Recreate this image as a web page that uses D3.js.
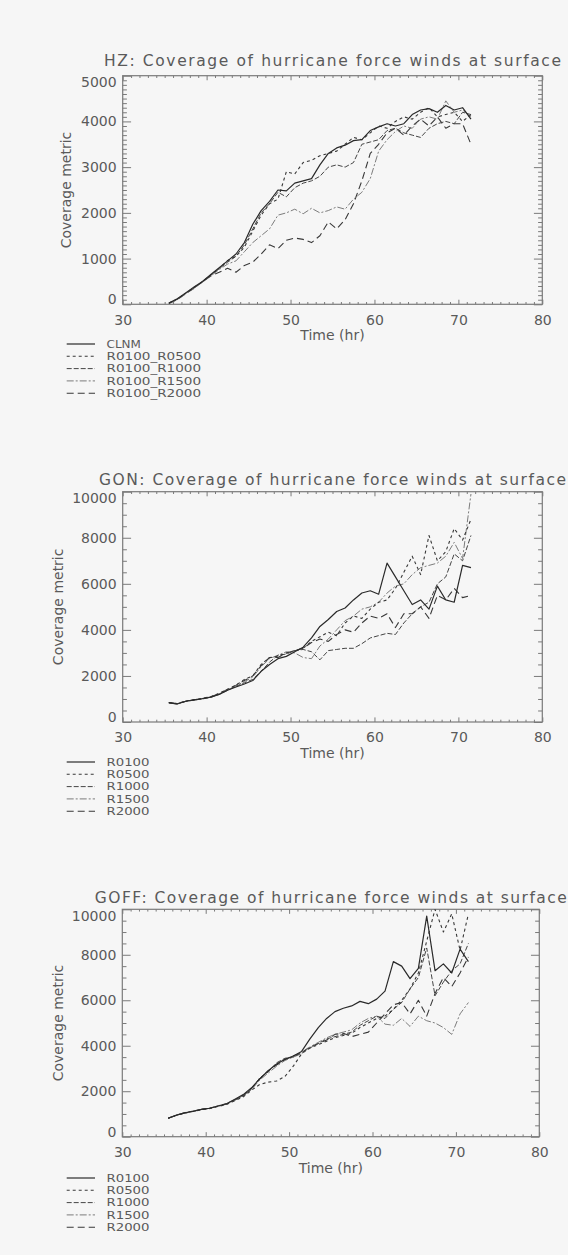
<!DOCTYPE html>
<html><head><meta charset="utf-8">
<script src="https://cdn.jsdelivr.net/npm/d3@7"></script>
<style>
body{margin:0;background:#f6f6f6;}
svg{display:block;}
text{font-family:"DejaVu Sans",sans-serif;fill:#5a5a5a;}
</style>
</head><body>
<svg id="c" width="568" height="1255"></svg>
<script>
// ---------------- DATA ----------------
const times = [35.5,36.5,37.5,38.5,39.5,40.5,41.5,42.5,43.5,44.5,45.5,46.5,47.5,48.5,49.5,50.5,51.5,52.5,53.5,54.5,55.5,56.5,57.5,58.5,59.5,60.5,61.5,62.5,63.5,64.5,65.5,66.5,67.5,68.5,69.5,70.5,71.5];

const xTickLabels = [30,40,50,60,70,80];

// Panel 1: HZ
const hzTitle = "HZ: Coverage of hurricane force winds at surface";
const hzNames = ["CLNM","R0100_R0500","R0100_R1000","R0100_R1500","R0100_R2000"];
const hzYTicks = [0,1000,2000,3000,4000,5000];
const hzCLNM  = [30,120,250,380,500,650,800,950,1100,1350,1750,2050,2250,2500,2480,2650,2700,2750,3050,3300,3420,3480,3580,3600,3800,3880,3950,3900,3950,4150,4250,4280,4200,4350,4250,4300,4050];
const hzR0500 = [30,110,240,370,490,640,790,960,1050,1250,1600,1950,2200,2300,2900,2850,3100,3150,3250,3300,3350,3500,3650,3600,3750,3900,3850,4000,4100,4050,4200,4300,4100,4150,4200,4000,4150];
const hzR1000 = [20,110,240,360,500,640,780,920,1050,1300,1650,2000,2200,2450,2350,2550,2650,2700,2800,3000,3050,3000,3100,3500,3550,3600,3800,3850,3750,3700,3650,3850,3950,4000,3950,4200,4150];
const hzR1500 = [20,100,230,350,480,620,760,880,950,1150,1350,1500,1650,1950,2000,2080,1980,2100,2000,2050,2130,2080,2300,2450,2750,3350,3600,3780,3900,3850,4050,4100,4050,4450,4200,4250,4100];
const hzR2000 = [20,100,230,350,490,620,700,790,700,850,920,1100,1300,1220,1400,1450,1420,1350,1500,1800,1650,1850,2200,2700,3300,3500,3750,3850,3700,3900,4050,3900,4100,3850,3950,3950,3500];

// Panel 2: GON
const gonTitle = "GON: Coverage of hurricane force winds at surface";
const gonNames = ["R0100","R0500","R1000","R1500","R2000"];
const gonYTicks = [0,2000,4000,6000,8000,10000];
const gonR0100 = [840,780,900,960,1010,1080,1200,1380,1520,1650,1800,2200,2500,2750,2850,3050,3250,3650,4150,4450,4800,4950,5300,5600,5700,5550,6900,6300,5700,5100,5300,4900,5900,5300,5200,6800,6700];
const gonR0500 = [840,800,910,970,1030,1100,1250,1420,1600,1850,2000,2500,2800,2850,3000,3100,3200,3500,3700,3900,3750,4300,4600,4500,4900,5200,5300,5800,6500,7200,6400,8100,7000,7400,8400,7900,8800];
const gonR1000 = [840,790,890,950,1000,1070,1200,1380,1550,1700,1850,2200,2600,2900,2950,3100,3150,3050,2700,3100,3150,3200,3200,3400,3650,3750,3850,3800,4300,4700,5000,5200,6000,6300,7300,7000,8100];
const gonR1500 = [840,800,900,960,1020,1090,1220,1400,1580,1750,1950,2400,2750,2900,3050,3000,2800,2750,3300,3600,4000,4400,4600,4900,5000,5200,5600,5900,6000,6400,6700,6800,6900,7200,7800,7100,9900];
const gonR2000 = [840,790,900,960,1020,1100,1230,1420,1600,1800,2000,2450,2800,2800,3000,3100,3200,3450,3600,3500,3800,4000,3900,4300,4600,4500,4700,4100,4700,4700,5000,4500,5500,5300,5800,5400,5500];

// Panel 3: GOFF
const goffTitle = "GOFF: Coverage of hurricane force winds at surface";
const goffNames = ["R0100","R0500","R1000","R1500","R2000"];
const goffYTicks = [0,2000,4000,6000,8000,10000];
const goffR0100 = [810,950,1050,1120,1200,1250,1350,1450,1650,1850,2150,2550,2900,3200,3400,3550,3750,4300,4800,5200,5500,5650,5750,5950,5850,6050,6400,7700,7500,6950,7400,9700,7300,7600,7200,8250,7700];
const goffR0500 = [810,940,1040,1110,1190,1240,1330,1420,1580,1750,2050,2300,2400,2450,2650,3100,3650,3900,4050,4200,4350,4450,4550,4800,5000,5200,5300,5600,6000,6500,7200,8600,10000,9000,9800,8200,9800];
const goffR1000 = [810,950,1060,1130,1210,1260,1360,1460,1620,1800,2100,2600,2850,3250,3450,3500,3700,3900,4100,4300,4400,4500,4600,4900,5100,5300,5200,5600,5900,6500,7000,8300,6200,6800,7300,7600,8500];
const goffR1500 = [810,940,1040,1120,1190,1250,1340,1430,1600,1780,2080,2500,2800,3100,3350,3500,3650,3950,4150,4350,4500,4600,4700,5000,5200,5300,4950,4900,5200,4850,5300,5100,5000,4800,4500,5400,5900];
const goffR2000 = [810,950,1050,1120,1200,1250,1350,1440,1620,1820,2120,2550,2900,3150,3400,3550,3700,3950,4100,4250,4500,4550,4400,4500,4600,5000,5400,5800,5900,5400,6000,5300,6300,7000,6600,7200,7900];

// ---------------- STYLE / LAYOUT ----------------
const lineStyles = [
  {dash:null, color:"#2a2a2a", w:1.2},
  {dash:"3,3", color:"#383838", w:1.1},
  {dash:"5,2", color:"#454545", w:1.0},
  {dash:"7,2,2,2", color:"#7c7c7c", w:1.0},
  {dash:"7,4", color:"#383838", w:1.1}
];

const panels = [
  {title:hzTitle, names:hzNames, yTicks:hzYTicks, yMax:5000, yMinor:100, series:[hzCLNM,hzR0500,hzR1000,hzR1500,hzR2000],
   L:122.7, R:542.3, T:75.7, B:304.3, titleY:65.7, ylabX:66, legY:344, tl:457},
  {title:gonTitle, names:gonNames, yTicks:gonYTicks, yMax:10000, yMinor:500, series:[gonR0100,gonR0500,gonR1000,gonR1500,gonR2000],
   L:122.7, R:542.3, T:491.7, B:722, titleY:484.5, ylabX:58, legY:762, tl:467},
  {title:goffTitle, names:goffNames, yTicks:goffYTicks, yMax:10000, yMinor:500, series:[goffR0100,goffR0500,goffR1000,goffR1500,goffR2000],
   L:122.3, R:539.3, T:909.3, B:1136.7, titleY:902.5, ylabX:58, legY:1178, tl:472}
];

const svg = d3.select("#c");
svg.append("rect").attr("width",568).attr("height",1255).attr("fill","#f6f6f6");
const axisColor = "#7a7a7a";

panels.forEach((p, pi) => {
  const x = d3.scaleLinear().domain([30,80]).range([p.L,p.R]);
  const y = d3.scaleLinear().domain([0,p.yMax]).range([p.B,p.T]);
  const g = svg.append("g");
  const W = p.R - p.L, H = p.B - p.T;
  const xMaj = 0.02*H, yMaj = 0.02*W;

  const xMinorVals = d3.range(30,81,1).filter(v => v%10!==0);
  const yMinorVals = d3.range(0,p.yMax+1,p.yMinor).filter(v => !p.yTicks.includes(v));

  g.append("g").attr("transform",`translate(0,${p.B})`)
    .call(d3.axisBottom(x).tickValues(xTickLabels).tickSize(-xMaj).tickSizeOuter(0).tickPadding(10.5).tickFormat(d3.format("d")));
  g.append("g").attr("transform",`translate(0,${p.B})`)
    .call(d3.axisBottom(x).tickValues(xMinorVals).tickSize(-xMaj/2).tickSizeOuter(0).tickFormat(""));
  g.append("g").attr("transform",`translate(0,${p.T})`)
    .call(d3.axisTop(x).tickValues(xTickLabels).tickSize(-xMaj).tickSizeOuter(0).tickFormat(""));
  g.append("g").attr("transform",`translate(0,${p.T})`)
    .call(d3.axisTop(x).tickValues(xMinorVals).tickSize(-xMaj/2).tickSizeOuter(0).tickFormat(""));
  const ly = g.append("g").attr("transform",`translate(${p.L},0)`)
    .call(d3.axisLeft(y).tickValues(p.yTicks).tickSize(-yMaj).tickSizeOuter(0).tickPadding(6).tickFormat(d3.format("d")));
  // IDL keeps the end labels inside the box
  ly.selectAll(".tick text").attr("dy", d => d===p.yMax ? "0.78em" : (d===0 ? "-0.05em" : "0.32em"));
  g.append("g").attr("transform",`translate(${p.L},0)`)
    .call(d3.axisLeft(y).tickValues(yMinorVals).tickSize(-yMaj/2).tickSizeOuter(0).tickFormat(""));
  g.append("g").attr("transform",`translate(${p.R},0)`)
    .call(d3.axisRight(y).tickValues(p.yTicks).tickSize(-yMaj).tickSizeOuter(0).tickFormat(""));
  g.append("g").attr("transform",`translate(${p.R},0)`)
    .call(d3.axisRight(y).tickValues(yMinorVals).tickSize(-yMaj/2).tickSizeOuter(0).tickFormat(""));

  g.selectAll(".domain").remove();
  g.selectAll(".tick line").attr("stroke",axisColor).attr("stroke-width",1);
  g.selectAll(".tick text").attr("font-size",14).attr("fill","#5a5a5a").attr("font-family","DejaVu Sans, sans-serif");

  g.append("rect").attr("x",p.L).attr("y",p.T).attr("width",W).attr("height",H)
    .attr("fill","none").attr("stroke",axisColor).attr("stroke-width",1.2);

  g.append("text").attr("x",(p.L+p.R)/2).attr("y",p.titleY).attr("text-anchor","middle")
    .attr("font-size",15.5).attr("textLength", p.tl).attr("lengthAdjust","spacing")
    .text(p.title);

  g.append("text").attr("x",(p.L+p.R)/2).attr("y",p.B+36).attr("text-anchor","middle")
    .attr("font-size",14).text("Time (hr)");
  g.append("text").attr("transform",`translate(${p.ylabX},${(p.T+p.B)/2}) rotate(-90)`)
    .attr("text-anchor","middle").attr("dy","0.35em")
    .attr("font-size",14).text("Coverage metric");

  const cid = "clip"+pi;
  svg.append("clipPath").attr("id",cid).append("rect")
    .attr("x",p.L).attr("y",p.T).attr("width",W).attr("height",H);

  const line = d3.line().x((d,i)=>x(times[i])).y(d=>y(d));
  for (let s = p.series.length-1; s >= 0; s--) {
    const st = lineStyles[s];
    g.append("path").attr("clip-path",`url(#${cid})`)
      .attr("d", line(p.series[s]))
      .attr("fill","none").attr("stroke",st.color).attr("stroke-width",st.w)
      .attr("stroke-dasharray",st.dash).attr("stroke-linejoin","round");
  }

  p.names.forEach((n,i) => {
    const st = lineStyles[i];
    const yy = p.legY + i*12.3;
    g.append("line").attr("x1",66.7).attr("x2",95).attr("y1",yy).attr("y2",yy)
      .attr("stroke",st.color).attr("stroke-width",st.w).attr("stroke-dasharray",st.dash);
    g.append("text").attr("x",106.5).attr("y",yy).attr("dy","0.36em")
      .attr("font-size",10.5).attr("textLength", n.length*8.6).attr("lengthAdjust","spacingAndGlyphs")
      .text(n);
  });
});
</script>
</body></html>
